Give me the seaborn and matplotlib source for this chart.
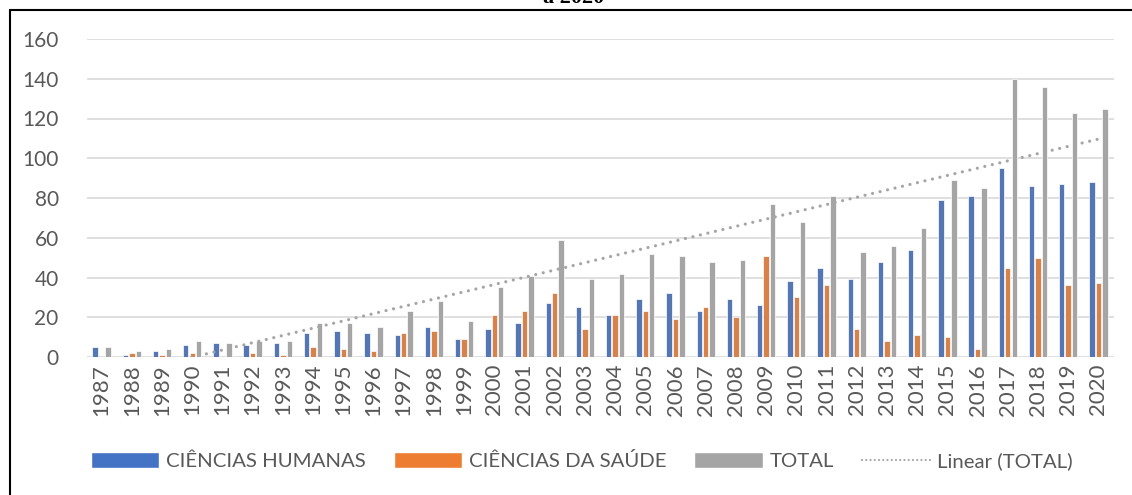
import numpy as np
import pandas as pd
import seaborn as sns
import matplotlib
matplotlib.use("Agg")
import matplotlib.pyplot as plt
from matplotlib.patches import Patch
from matplotlib.lines import Line2D

anos = [str(a) for a in range(1987, 2021)]
humanas = [5, 1, 3, 6, 7, 6, 7, 12, 13, 12, 11, 15, 9, 14, 17, 27, 25, 21, 29, 32,
           23, 29, 26, 38, 45, 39, 48, 54, 79, 81, 95, 86, 87, 88]
saude = [0, 2, 1, 2, 0, 2, 1, 5, 4, 3, 12, 13, 9, 21, 23, 32, 14, 21, 23, 19,
         25, 20, 51, 30, 36, 14, 8, 11, 10, 4, 45, 50, 36, 37]
total = [5, 3, 4, 8, 7, 8, 8, 17, 17, 15, 23, 28, 18, 35, 41, 59, 39, 42, 52, 51,
         48, 49, 77, 68, 81, 53, 56, 65, 89, 85, 140, 136, 123, 125]
series = ["CIÊNCIAS HUMANAS", "CIÊNCIAS DA SAÚDE", "TOTAL"]
cores = ["#4472C4", "#ED7D31", "#A5A5A5"]
yticks = [0, 20, 40, 60, 80, 100, 120, 140, 160]

sns.set_theme(style="white")
plt.rcParams["font.family"] = ["Lato", "DejaVu Sans"]

df = pd.DataFrame({
    "ano": anos * 3,
    "valor": humanas + saude + total,
    "serie": [series[0]] * len(anos) + [series[1]] * len(anos) + [series[2]] * len(anos),
})

W, H = 1132, 495
fig = plt.figure(figsize=(W / 100, H / 100), dpi=100)
ax = fig.add_axes([86.5 / W, 1 - 357 / H, (1113.5 - 86.5) / W, (357 - 39) / H])

sns.barplot(data=df, x="ano", y="valor", hue="serie", order=anos, hue_order=series,
            palette=cores, width=0.64, gap=0.16, edgecolor="white", linewidth=0.5,
            legend=False, ax=ax, zorder=3)

# linear trend of TOTAL
xs = np.arange(len(anos))
coef = np.polyfit(xs + 1, np.array(total, dtype=float), 1)
trend = np.polyval(coef, xs + 1)
ax.plot(xs, trend, color="#A5A5A5", lw=2.3, linestyle=(0, (0.01, 2.4)),
        dash_capstyle="round", zorder=4)

ax.set_xlim(-0.5, len(anos) - 0.5)
ax.set_ylim(0, 160)
ax.set_yticks(yticks)
ax.set_yticklabels([str(v) for v in yticks])
ax.yaxis.grid(True, color="#D9D9D9", lw=1.2, zorder=0)
ax.set_axisbelow(True)
for s in ax.spines.values():
    s.set_visible(False)
ax.tick_params(axis="both", length=0, colors="#595959")
ax.tick_params(axis="y", labelsize=15, pad=20)
ax.tick_params(axis="x", labelsize=16, rotation=90, pad=5)
ax.set_xlabel("")
ax.set_ylabel("")

handles = [Patch(facecolor=cores[0]), Patch(facecolor=cores[1]), Patch(facecolor=cores[2]),
           Line2D([0], [0], color="#A5A5A5", lw=1.6, linestyle=(0, (0.01, 1.9)),
                  dash_capstyle="round")]
labels = series + ["Linear (TOTAL)"]
leg = fig.legend(handles, labels, loc="center", bbox_to_anchor=(0.514, 1 - 461 / H),
                 ncol=4, frameon=False, fontsize=14.7, handlelength=3.35,
                 handleheight=0.85, handletextpad=0.35, columnspacing=1.35,
                 labelcolor="#595959")

# title (cut at the top) and frame
fig.text(574 / W, 1 - 3 / H, "a 2020", ha="center", va="baseline",
         fontfamily="Liberation Serif", fontweight="bold", fontsize=16, color="black")
fig.add_artist(Line2D([9.5 / W, 9.5 / W], [0, 1 - 10 / H], color="black", lw=1.5,
                      transform=fig.transFigure))
fig.add_artist(Line2D([9.5 / W, 1], [1 - 10 / H, 1 - 10 / H], color="black", lw=1.5,
                      transform=fig.transFigure))

fig.savefig("out.png", dpi=100)
